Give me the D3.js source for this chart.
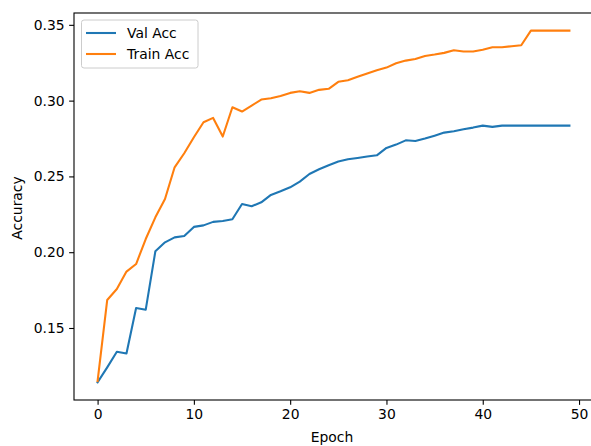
<!DOCTYPE html>
<html>
<head>
<meta charset="utf-8">
<script src="https://cdn.jsdelivr.net/npm/d3@7"></script>
<style>
  body { margin: 0; background: #fff; }
  text { font-family: "DejaVu Sans", sans-serif; fill: #000; }
</style>
</head>
<body>
<script>
const valAcc = [
  0.1141, 0.1240, 0.1343, 0.1332, 0.1632, 0.1621, 0.2006, 0.2065, 0.2098, 0.2107,
  0.2167, 0.2177, 0.2200, 0.2206, 0.2217, 0.2318, 0.2303, 0.2329, 0.2378, 0.2402,
  0.2428, 0.2466, 0.2516, 0.2547, 0.2574, 0.2598, 0.2613, 0.2622, 0.2631, 0.2639,
  0.2688, 0.2710, 0.2738, 0.2734, 0.2750, 0.2769, 0.2789, 0.2798, 0.2811, 0.2822,
  0.2835, 0.2827, 0.2835, 0.2835, 0.2835, 0.2835, 0.2835, 0.2835, 0.2835, 0.2835
];
const trainAcc = [
  0.1150, 0.1685, 0.1757, 0.1872, 0.1922, 0.2087, 0.2230, 0.2351, 0.2560, 0.2653,
  0.2758, 0.2857, 0.2886, 0.2763, 0.2956, 0.2928, 0.2967, 0.3007, 0.3016, 0.3031,
  0.3051, 0.3062, 0.3051, 0.3071, 0.3078, 0.3124, 0.3134, 0.3157, 0.3179, 0.3200,
  0.3218, 0.3247, 0.3264, 0.3275, 0.3295, 0.3304, 0.3315, 0.3332, 0.3324, 0.3324,
  0.3335, 0.3352, 0.3352, 0.3359, 0.3365, 0.3462, 0.3462, 0.3462, 0.3462, 0.3462
];
const epochs = valAcc.map((d, i) => i);
const xTicks = [0, 10, 20, 30, 40, 50];
const yTicks = [0.15, 0.20, 0.25, 0.30, 0.35];
const seriesNames = ['Val Acc', 'Train Acc'];
const seriesColors = ['#1f77b4', '#ff7f0e'];

const width = 591, height = 446;
const plotLeft = 74, plotTop = 13, plotRight = 593, plotBottom = 400;
const fontSize = 13.9;

const svg = d3.select('body').append('svg')
  .attr('width', width)
  .attr('height', height);

// matplotlib-style 5% margins
const xPad = (d3.max(epochs) - d3.min(epochs)) * 0.05;
const xScale = d3.scaleLinear()
  .domain([d3.min(epochs) - xPad, d3.max(epochs) + xPad])
  .range([plotLeft, plotRight]);

const allY = valAcc.concat(trainAcc);
const yMin = d3.min(allY), yMax = d3.max(allY);
const yPad = (yMax - yMin) * 0.05;
const yScale = d3.scaleLinear()
  .domain([yMin - yPad, yMax + yPad])
  .range([plotBottom, plotTop]);

// lines
const line = d3.line()
  .x((d, i) => xScale(epochs[i]))
  .y(d => yScale(d));

[valAcc, trainAcc].forEach((series, k) => {
  svg.append('path')
    .datum(series)
    .attr('fill', 'none')
    .attr('stroke', seriesColors[k])
    .attr('stroke-width', 2.08)
    .attr('stroke-linejoin', 'round')
    .attr('stroke-linecap', 'square')
    .attr('d', line);
});

// axes
const xAxis = d3.axisBottom(xScale)
  .tickValues(xTicks)
  .tickFormat(d3.format('d'))
  .tickSize(4.86)
  .tickPadding(4.5)
  .tickSizeOuter(0);
const gx = svg.append('g')
  .attr('transform', 'translate(0,' + plotBottom + ')')
  .call(xAxis);

const yAxis = d3.axisLeft(yScale)
  .tickValues(yTicks)
  .tickFormat(d3.format('.2f'))
  .tickSize(4.86)
  .tickPadding(4.5)
  .tickSizeOuter(0);
const gy = svg.append('g')
  .attr('transform', 'translate(' + plotLeft + ',0)')
  .call(yAxis);

[gx, gy].forEach(g => {
  g.select('.domain').remove();
  g.selectAll('.tick line').attr('stroke', '#000').attr('stroke-width', 1.1);
  g.selectAll('.tick text')
    .style('font-family', '"DejaVu Sans", sans-serif')
    .style('font-size', fontSize + 'px')
    .attr('fill', '#000');
});

// frame
svg.append('rect')
  .attr('x', plotLeft)
  .attr('y', plotTop)
  .attr('width', plotRight - plotLeft)
  .attr('height', plotBottom - plotTop)
  .attr('fill', 'none')
  .attr('stroke', '#000')
  .attr('stroke-width', 1.1);

// axis labels
svg.append('text')
  .attr('x', 332)
  .attr('y', 442)
  .attr('text-anchor', 'middle')
  .style('font-size', fontSize + 'px')
  .text('Epoch');

svg.append('text')
  .attr('transform', 'translate(22,208) rotate(-90)')
  .attr('text-anchor', 'middle')
  .style('font-size', fontSize + 'px')
  .text('Accuracy');

// legend
const legend = svg.append('g').attr('transform', 'translate(81.5,20)');
legend.append('rect')
  .attr('width', 116.5)
  .attr('height', 48)
  .attr('rx', 2.5)
  .attr('fill', '#fff')
  .attr('fill-opacity', 0.8)
  .attr('stroke', '#cccccc')
  .attr('stroke-width', 1);

seriesNames.forEach((name, k) => {
  const cy = 13 + k * 21;
  legend.append('line')
    .attr('x1', 4.5).attr('x2', 34.5)
    .attr('y1', cy).attr('y2', cy)
    .attr('stroke', seriesColors[k])
    .attr('stroke-width', 2.08);
  legend.append('text')
    .attr('x', 45.5)
    .attr('y', cy + 5)
    .style('font-size', fontSize + 'px')
    .text(name);
});
</script>
</body>
</html>
